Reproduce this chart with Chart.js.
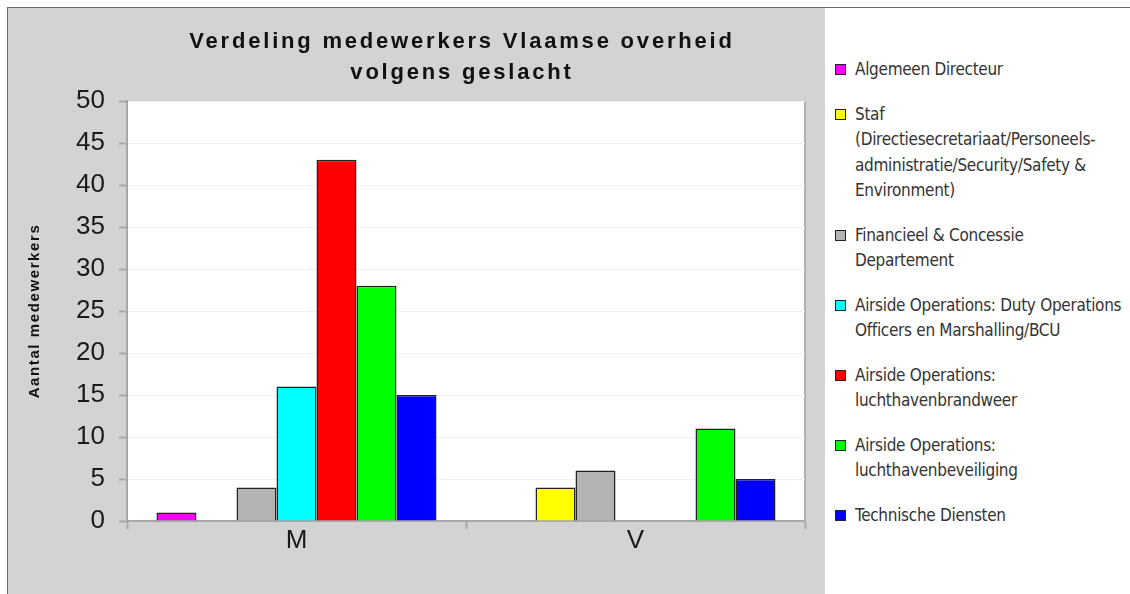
<!DOCTYPE html>
<html>
<head>
<meta charset="utf-8">
<script src="https://cdn.jsdelivr.net/npm/chart.js@4"></script>
<style>
  body { margin: 0; background: #fff; }
  #frame { position: absolute; left: 7px; top: 7px; width: 1123px; height: 587px;
           border-top: 1px solid #6a6a6a; border-left: 1px solid #6a6a6a; }
  #panel { position: absolute; left: 0; top: 0; width: 817px; height: 586px; background: #d3d3d3; }
  #legend { position: absolute; left: 835px; top: 57px; width: 295px;
            font-family: "Liberation Sans Narrow", "Arial Narrow", "DejaVu Sans Condensed", sans-serif;
            font-size: 17px; color: #333; line-height: 25.5px; }
  .item { position: relative; padding-left: 20px; margin-bottom: 19px; white-space: pre-line; letter-spacing: -0.3px; }
  .box { position: absolute; left: 0; top: 7px; width: 9px; height: 9px; border: 1px solid #222; }
</style>
</head>
<body>
<div id="frame">
  <div id="panel"><canvas id="genderChart"></canvas></div>
</div>
<div id="legend"></div>
<script>
// Verdeling medewerkers per geslacht
const categories = ["M", "V"];
const seriesNames = [
  "Algemeen Directeur",
  "Staf\n(Directiesecretariaat/Personeels-\nadministratie/Security/Safety &\nEnvironment)",
  "Financieel & Concessie\nDepartement",
  "Airside Operations: Duty Operations\nOfficers en Marshalling/BCU",
  "Airside Operations:\nluchthavenbrandweer",
  "Airside Operations:\nluchthavenbeveiliging",
  "Technische Diensten",
];
const algemeenDirecteur = [1, 0];
const staf = [0, 4];
const financieel = [4, 6];
const dutyOperations = [16, 0];
const brandweer = [43, 0];
const beveiliging = [28, 11];
const technischeDiensten = [15, 5];
const yTicks = [0, 5, 10, 15, 20, 25, 30, 35, 40, 45, 50];

const seriesValues = [algemeenDirecteur, staf, financieel, dutyOperations, brandweer, beveiliging, technischeDiensten];
const colors = ["#ff00ff", "#ffff00", "#b3b3b3", "#00ffff", "#ff0000", "#00ff00", "#0000ff"];

const plotBackground = {
  id: "plotBackground",
  beforeDraw(chart) {
    const { ctx, chartArea: a } = chart;
    ctx.save();
    ctx.fillStyle = "#ffffff";
    ctx.fillRect(a.left, a.top, a.width, a.height);
    ctx.strokeStyle = "#b0b0b0";
    ctx.lineWidth = 2;
    ctx.beginPath();
    ctx.moveTo(a.right, a.top);
    ctx.lineTo(a.right, a.bottom);
    ctx.stroke();
    ctx.restore();
  },
  afterDraw(chart) {
    const { ctx, chartArea: a } = chart;
    ctx.save();
    ctx.font = "bold 22px 'Liberation Sans', Arial, sans-serif";
    ctx.letterSpacing = "2.8px";
    ctx.fillStyle = "#111";
    ctx.textAlign = "center";
    ctx.textBaseline = "middle";
    ctx.fillText("Verdeling medewerkers Vlaamse overheid", 454, 34);
    ctx.fillText("volgens geslacht", 454, 65);
    // y axis title
    ctx.font = "bold 15px 'Liberation Sans', Arial, sans-serif";
    ctx.letterSpacing = "1.6px";
    ctx.translate(27, (a.top + a.bottom) / 2);
    ctx.rotate(-Math.PI / 2);
    ctx.fillText("Aantal medewerkers", 0, 0);
    ctx.restore();
  },
};

const ctx = document.getElementById("genderChart").getContext("2d");
const genderChart = new Chart(ctx, {
  type: "bar",
  data: {
    labels: categories,
    datasets: seriesNames.map((name, i) => ({
      label: name.replace(/\n/g, " "),
      data: seriesValues[i],
      backgroundColor: colors[i],
      borderColor: "#222222",
      borderWidth: 1.5,
      categoryPercentage: 0.826,
      barPercentage: 1,
    })),
  },
  options: {
    responsive: true,
    maintainAspectRatio: false,
    animation: false,
    layout: { padding: { top: 93, right: 20, bottom: 0, left: 0 } },
    plugins: {
      legend: { display: false },
      tooltip: { enabled: false },
    },
    scales: {
      x: {
        afterFit: (s) => { s.height = 73; },
        grid: { drawOnChartArea: false, tickLength: 8, tickColor: "#a8a8a8", tickWidth: 2, offset: true },
        border: { color: "#a8a8a8", width: 2 },
        ticks: { color: "#1a1a1a", padding: -4, font: { family: "'Liberation Sans', Arial, sans-serif", size: 26 } },
      },
      y: {
        min: 0,
        max: 50,
        afterFit: (s) => { s.width = 119; },
        afterBuildTicks: (s) => { s.ticks = yTicks.map((v) => ({ value: v })); },
        grid: { color: "#f1f1f1", tickLength: 8, tickColor: "#a8a8a8", tickWidth: 2 },
        border: { color: "#a8a8a8", width: 2 },
        ticks: { color: "#1a1a1a", padding: 14, font: { family: "'Liberation Sans', Arial, sans-serif", size: 26 } },
      },
    },
  },
  plugins: [plotBackground],
});

// legend with the same wrapping as the original
const legend = document.getElementById("legend");
seriesNames.forEach((name, i) => {
  const item = document.createElement("div");
  item.className = "item";
  const box = document.createElement("span");
  box.className = "box";
  box.style.background = colors[i];
  item.appendChild(box);
  item.appendChild(document.createTextNode(name));
  legend.appendChild(item);
});
</script>
</body>
</html>
